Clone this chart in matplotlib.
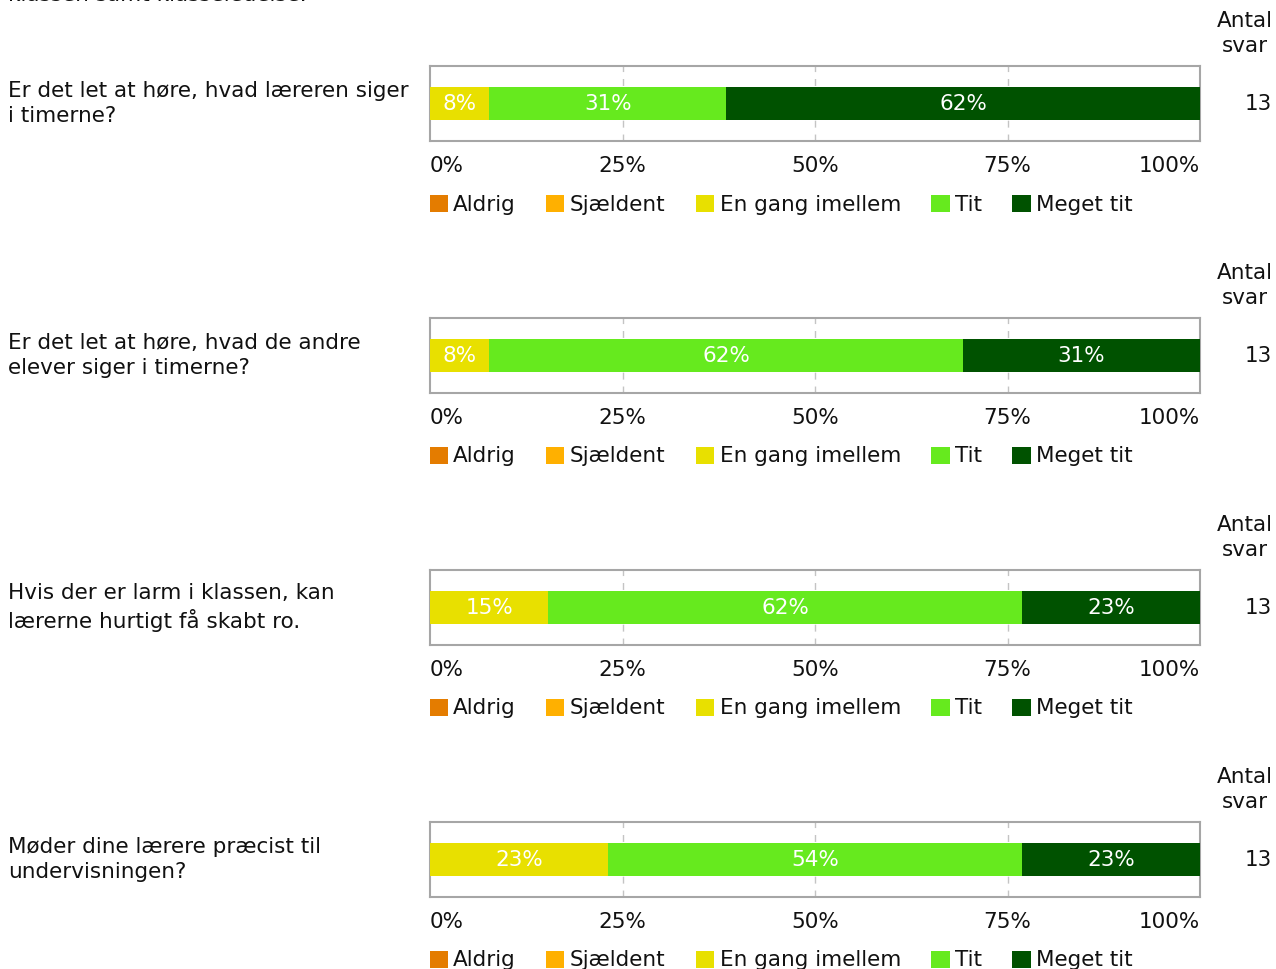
import matplotlib
matplotlib.use("Agg")
import matplotlib.pyplot as plt
from matplotlib.patches import Patch

# ---------------------------------------------
# Data
# ---------------------------------------------
categories = ["Aldrig", "Sjældent", "En gang imellem", "Tit", "Meget tit"]
colors = ["#e47c00", "#ffb000", "#e8e000", "#66ea1e", "#005200"]
questions = [
    "Er det let at høre, hvad læreren siger\ni timerne?",
    "Er det let at høre, hvad de andre\nelever siger i timerne?",
    "Hvis der er larm i klassen, kan\nlærerne hurtigt få skabt ro.",
    "Møder dine lærere præcist til\nundervisningen?",
]
# antal svar per kategori (Aldrig, Sjældent, En gang imellem, Tit, Meget tit)
counts_q1 = [0, 0, 1, 4, 8]
counts_q2 = [0, 0, 1, 8, 4]
counts_q3 = [0, 0, 2, 8, 3]
counts_q4 = [0, 0, 3, 7, 3]
all_counts = [counts_q1, counts_q2, counts_q3, counts_q4]
ticks = [0, 25, 50, 75, 100]
tick_labels = ["0%", "25%", "50%", "75%", "100%"]
header_text = "klassen samt klasseledelse."

# ---------------------------------------------
# Layout (pixels)
# ---------------------------------------------
W, H = 1276, 969
FS = 15.5
plt.rcParams['font.family'] = ['DejaVu Sans']

fig = plt.figure(figsize=(W / 100, H / 100), dpi=100)
fig.patch.set_facecolor("white")

def fx(px):
    return px / W

def fy(py):
    return 1 - py / H

fig.text(fx(8), fy(1), header_text, fontsize=FS, va="baseline", ha="left", color="#111111")

box_left, box_right = 430, 1200
box_h = 75
first_top = 66
stride = 252

for i, (q, counts) in enumerate(zip(questions, all_counts)):
    top = first_top + i * stride
    ax = fig.add_axes([fx(box_left), fy(top + box_h), (box_right - box_left) / W, box_h / H])
    n = sum(counts)
    pct = [100 * c / n for c in counts]
    left = 0
    for cat, p, col in zip(categories, pct, colors):
        if p > 0:
            ax.barh(0, p, left=left, height=0.44, color=col, zorder=3)
            ax.text(left + p / 2, 0, f"{round(p)}%", color="white", fontsize=FS,
                    ha="center", va="center", zorder=4)
        left += p
    ax.set_xlim(0, 100)
    ax.set_ylim(-0.5, 0.5)
    ax.set_yticks([])
    ax.set_xticks(ticks)
    ax.set_xticklabels(tick_labels, fontsize=FS, color="#111111")
    ax.tick_params(axis="x", length=0, pad=10.5)
    lbls = ax.get_xticklabels()
    lbls[0].set_ha("left")
    lbls[-1].set_ha("right")
    for t in ticks[1:-1]:
        ax.axvline(t, color="#c4c4c4", lw=1, ls=(0, (5, 5)), zorder=1)
    for s in ax.spines.values():
        s.set_color("#a6a6a6")
        s.set_linewidth(1.5)

    yc = top + box_h / 2
    fig.text(fx(8), fy(yc), q, fontsize=FS, ha="left", va="center", linespacing=1.3, color="#111111")
    fig.text(fx(1245), fy(yc - 70), "Antal\nsvar", fontsize=FS, ha="center", va="center",
             multialignment="center", linespacing=1.3, color="#111111")
    fig.text(fx(1272), fy(yc), str(n), fontsize=FS, ha="right", va="center", color="#111111")

    handles = [Patch(facecolor=c, edgecolor="none", label=l) for c, l in zip(colors, categories)]
    fig.legend(handles=handles, loc="center left", bbox_to_anchor=(fx(box_left - 9), fy(yc + 101)),
               ncol=5, frameon=False, fontsize=FS, handlelength=0.84, handleheight=0.84,
               handletextpad=0.25, columnspacing=1.42, borderaxespad=0, labelcolor="#111111")

fig.savefig("out.png", dpi=100)
